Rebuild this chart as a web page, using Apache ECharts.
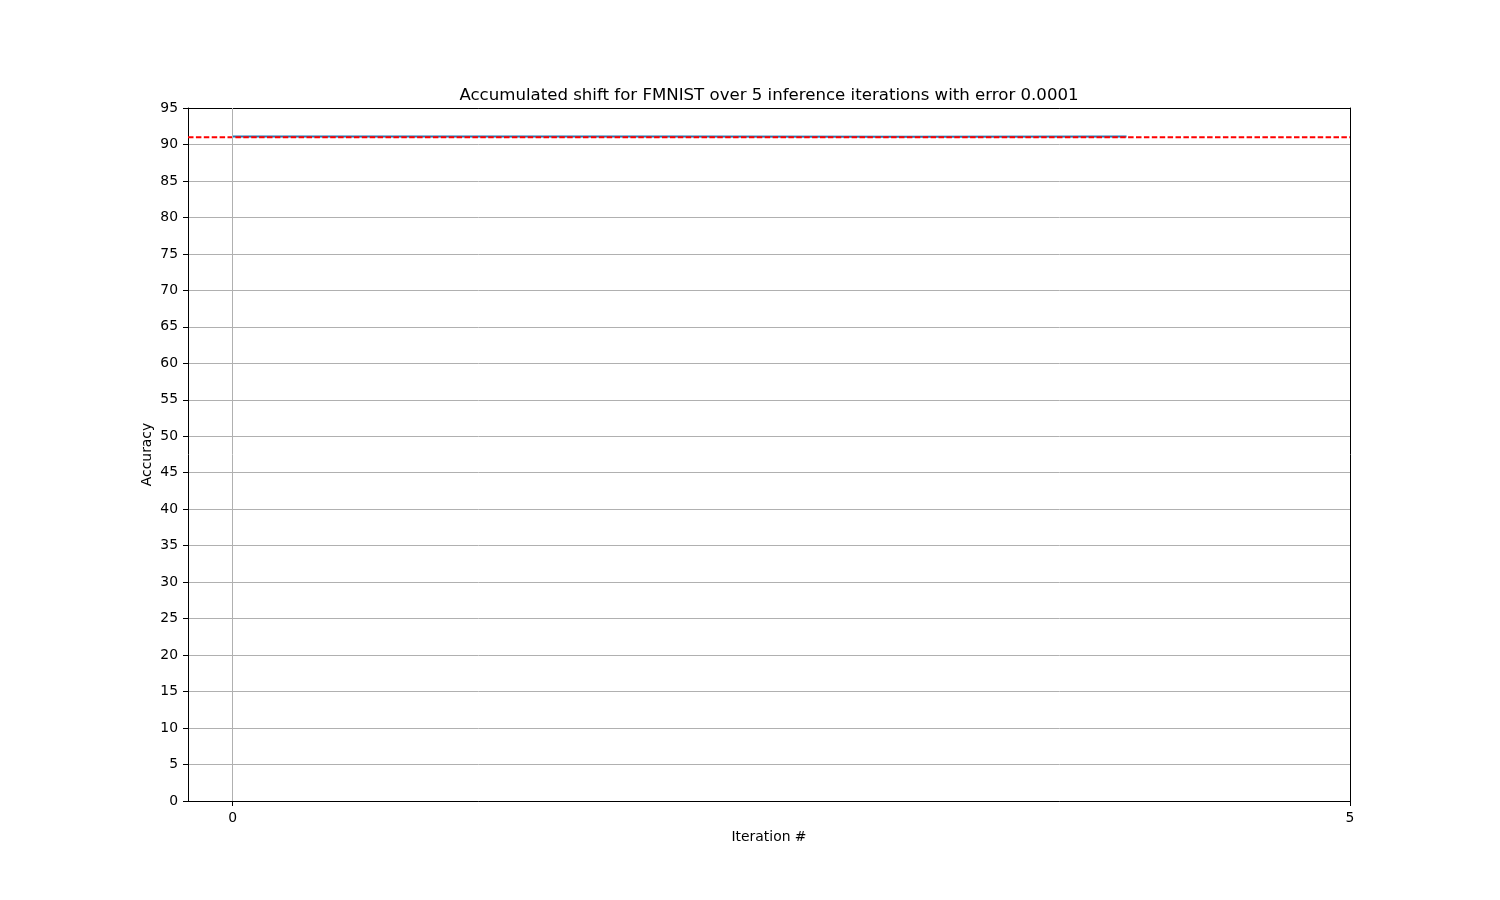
<!DOCTYPE html>
<html>
<head>
<meta charset="utf-8">
<script src="https://cdn.jsdelivr.net/npm/echarts@6/dist/echarts.min.js"></script>
<style>html,body{margin:0;padding:0;background:#fff;}#chart{width:1500px;height:900px;}</style>
</head>
<body>
<div id="chart"></div>
<script>
const iterations = [0, 1, 2, 3, 4];
const accuracy = [91.1, 91.1, 91.08, 91.06, 91.08];
const baseline = 91.0;
const xTicks = [0, 5];
const titleText = 'Accumulated shift for FMNIST over 5 inference iterations with error 0.0001';

const FONT = 'DejaVu Sans';
const chart = echarts.init(document.getElementById('chart'), null, {renderer: 'canvas'});
chart.setOption({
  animation: false,
  backgroundColor: '#fff',
  title: {
    text: titleText, left: 769, top: 87, padding: 0, textAlign: 'center',
    textStyle: {fontFamily: FONT, fontSize: 16.6, fontWeight: 'normal', color: '#000'}
  },
  grid: {left: 188, right: 150, top: 108, bottom: 99},
  xAxis: [{
    type: 'value', min: -0.2, max: 5,
    name: 'Iteration #', nameLocation: 'middle', nameGap: 29,
    nameTextStyle: {fontFamily: FONT, fontSize: 13.9, color: '#000'},
    axisLine: {show: true, onZero: false, lineStyle: {color: '#000', width: 1}},
    axisTick: {show: true, inside: false, length: 5, lineStyle: {color: '#000'}, customValues: xTicks},
    axisLabel: {fontFamily: FONT, fontSize: 13.9, color: '#000', margin: 10, customValues: xTicks},
    splitLine: {show: false}
  }, {
    type: 'value', min: -0.2, max: 5, position: 'top',
    axisLine: {show: true, onZero: false, lineStyle: {color: '#000', width: 1}},
    axisTick: {show: false}, axisLabel: {show: false}, splitLine: {show: false}
  }],
  yAxis: [{
    type: 'value', min: 0, max: 95, interval: 5,
    name: 'Accuracy', nameLocation: 'middle', nameGap: 34, nameRotate: 90, nameMoveOverlap: false,
    nameTextStyle: {fontFamily: FONT, fontSize: 13.9, color: '#000'},
    axisLine: {show: true, onZero: false, lineStyle: {color: '#000', width: 1}},
    axisTick: {show: true, inside: false, length: 5, lineStyle: {color: '#000'}},
    axisLabel: {fontFamily: FONT, fontSize: 13.9, color: '#000', margin: 10, padding: [5, 0, 0, 0]},
    splitLine: {show: true, lineStyle: {color: '#b0b0b0', width: 1}}
  }, {
    type: 'value', min: 0, max: 95, position: 'right',
    axisLine: {show: true, onZero: false, lineStyle: {color: '#000', width: 1}},
    axisTick: {show: false}, axisLabel: {show: false}, splitLine: {show: false}
  }],
  series: [{
    type: 'line', xAxisIndex: 0, yAxisIndex: 0,
    data: [[0, 0]], showSymbol: false, symbol: 'none', silent: true,
    lineStyle: {opacity: 0},
    markLine: {
      silent: true, symbol: 'none', label: {show: false},
      lineStyle: {color: '#b0b0b0', width: 1, type: 'solid'},
      data: [{xAxis: 0}]
    },
    z: 1
  }, {
    name: 'accuracy', type: 'line', xAxisIndex: 0, yAxisIndex: 0,
    data: iterations.map((x, i) => [x, accuracy[i]]),
    showSymbol: false, symbol: 'none',
    lineStyle: {color: '#1f77b4', width: 2},
    z: 3
  }, {
    name: 'baseline', type: 'line', xAxisIndex: 0, yAxisIndex: 0,
    data: [[-0.2, baseline], [5, baseline]],
    showSymbol: false, symbol: 'none',
    lineStyle: {color: '#ff0000', width: 2, type: [5.5, 2.4]},
    z: 4
  }]
});
</script>
</body>
</html>
